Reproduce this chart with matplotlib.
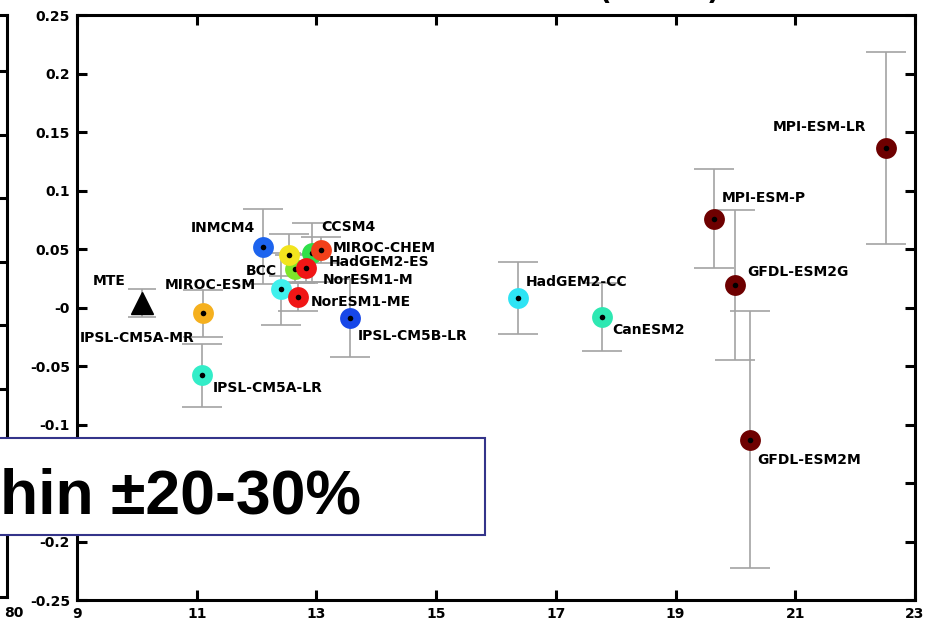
import numpy as np
import matplotlib
matplotlib.use("Agg")
import matplotlib.pyplot as plt
from matplotlib.patches import Rectangle

plt.rcParams["font.family"] = ["DejaVu Sans"]
plt.rcParams["font.weight"] = "bold"

# models, in drawing order (later ones sit on top)
models = ["IPSL-CM5A-MR", "MIROC-ESM", "IPSL-CM5A-LR", "INMCM4", "HadGEM2-ES",
          "CCSM4", "BCC", "MIROC-CHEM", "NorESM1-M", "NorESM1-ME", "IPSL-CM5B-LR",
          "HadGEM2-CC", "CanESM2", "MPI-ESM-P", "MPI-ESM-LR", "GFDL-ESM2G", "GFDL-ESM2M"]
x_vals = [12.41, 11.10, 11.08, 12.10, 12.64, 12.92, 12.54, 13.07, 12.82, 12.70, 13.56,
          16.37, 17.77, 19.64, 22.52, 20.00, 20.25]
y_vals = [0.016, -0.005, -0.058, 0.052, 0.033, 0.047, 0.045, 0.049, 0.034, 0.009, -0.009,
          0.008, -0.008, 0.076, 0.136, 0.019, -0.113]
y_err = [0.031, 0.020, 0.027, 0.032, 0.012, 0.025, 0.018, 0.011, 0.012, 0.012, 0.033,
         0.031, 0.029, 0.042, 0.082, 0.064, 0.110]
colors = ["#3ff0ec", "#f5b01e", "#33edc8", "#1d64ee", "#7fe62a", "#2fe04a", "#f2e41e",
          "#f2401a", "#f01616", "#f01616", "#1747e8", "#2ee4f4", "#2ee8b2",
          "#6e0000", "#6e0000", "#6e0000", "#6e0000"]
# label offsets from the marker, in pixels
label_dx = [-201, -38, 11, -72, 34, 10, -43, 12, 17, 12, 8, 8, 10, 8, -114, 12, 7]
label_dy = [-49, 28, -13, 19, 7, 26, -16, 2, -12, -5, -18, 16, -13, 21, 21, 13, -20]

# observation based estimate
mte_x, mte_y, mte_err = 10.08, 0.004, 0.012

x_ticks = np.arange(9, 24, 2)
y_ticks = np.arange(-0.25, 0.2501, 0.05)

fig = plt.figure(figsize=(9.33, 6.3), dpi=100)

# cut-off panel on the left
ax0 = fig.add_axes([-0.3, 33 / 630, 0.3 + 7 / 933, 582 / 630])
ax0.set_xlim(0, 1)
ax0.set_ylim(0, 1)
ax0.set_xticks([])
ax0.set_yticks(np.arange(0.14, 0.92, 0.109))
ax0.tick_params(axis="y", left=False, right=True, labelleft=False,
                direction="in", length=7, width=2.2)
for s in ax0.spines.values():
    s.set_linewidth(2.2)
fig.text(14 / 933, 1 - 613 / 630, "80", ha="center", va="center", fontsize=10)

ax = fig.add_axes([77 / 933, 30 / 630, 838 / 933, 585 / 630])

ax.errorbar(x_vals, y_vals, yerr=y_err, fmt="none", ecolor="#a3a3a3",
            elinewidth=1.2, capsize=14.4, capthick=1.2, zorder=1)
ax.errorbar([mte_x], [mte_y], yerr=[mte_err], fmt="none", ecolor="#a3a3a3",
            elinewidth=1.2, capsize=10.4, capthick=1.2, zorder=1)

for i, name in enumerate(models):
    ax.plot(x_vals[i], y_vals[i], "o", color=colors[i], markersize=15,
            markeredgewidth=0, zorder=2 + i)
    ax.plot(x_vals[i], y_vals[i], "o", color="black", markersize=4,
            markeredgewidth=0, zorder=2 + i)
    ax.annotate(name, (x_vals[i], y_vals[i]), xytext=(label_dx[i], label_dy[i]),
                textcoords="offset pixels", ha="left", va="center",
                fontsize=10, fontweight="bold", zorder=40)

ax.plot(mte_x, mte_y, "^", color="black", markersize=16, zorder=30)
ax.annotate("MTE", (mte_x, mte_y), xytext=(-49, 22), textcoords="offset pixels",
            ha="left", va="center", fontsize=10, fontweight="bold")

ax.set_xlim(9, 23)
ax.set_ylim(-0.25, 0.25)
ax.set_xticks(x_ticks)
ax.set_xticklabels([str(v) for v in x_ticks])
ax.set_yticks(y_ticks)
ax.set_yticklabels(["%g" % round(v, 2) for v in y_ticks])
ax.tick_params(direction="in", length=7, width=2.2, top=True, right=True,
               labelsize=10, pad=5)
for s in ax.spines.values():
    s.set_linewidth(2.2)

# title, mostly outside the crop
fig.text(605 / 933, 1.0, "(", ha="center", va="baseline", fontsize=20)
fig.text(713 / 933, 1.0, ")", ha="center", va="baseline", fontsize=20)

# overlaid text box
box = Rectangle((-10 / 933, 95 / 630), 495 / 933, 97 / 630, transform=fig.transFigure,
                facecolor="white", edgecolor="#34348a", linewidth=1.5, zorder=50)
fig.add_artist(box)
fig.text(361 / 933, 1 - 513 / 630, "hin ±20-30%", ha="right", va="baseline",
         fontsize=45, fontweight="bold", family=["Liberation Sans", "DejaVu Sans"],
         zorder=51)

fig.savefig("out.png", dpi=100)
